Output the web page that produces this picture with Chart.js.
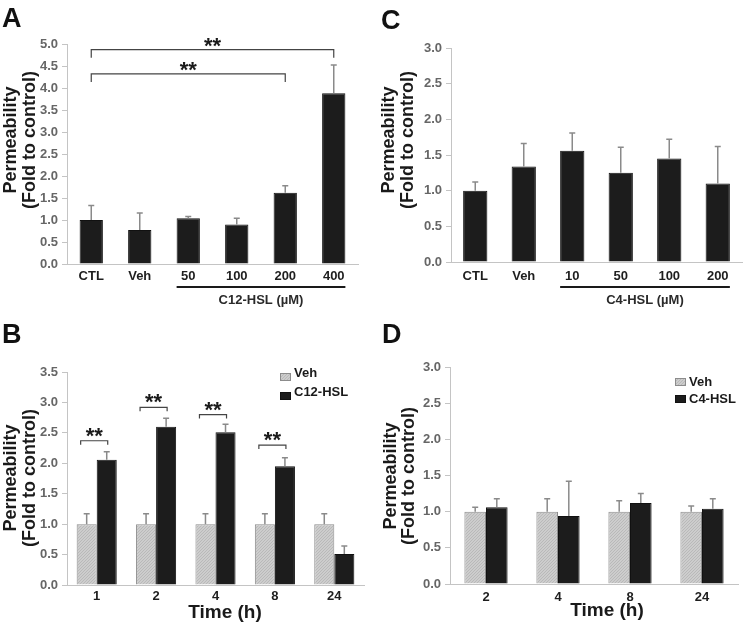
<!DOCTYPE html>
<html>
<head>
<meta charset="utf-8">
<script src="https://cdn.jsdelivr.net/npm/chart.js@4/dist/chart.umd.min.js"></script>
<style>
  body { margin: 0; background: #fff; }
  #wrap { position: relative; width: 743px; height: 624px; }
  canvas { position: absolute; }
</style>
</head>
<body>
<div id="wrap">
  <canvas id="panelA" width="371" height="310" style="left:0;top:0"></canvas>
  <canvas id="panelC" width="371" height="310" style="left:372px;top:0"></canvas>
  <canvas id="panelB" width="371" height="314" style="left:0;top:310px"></canvas>
  <canvas id="panelD" width="371" height="314" style="left:372px;top:310px"></canvas>
</div>
<script>
const FONT = '"Liberation Sans", Arial, sans-serif';

// A: C12-HSL dose
const doseLabelsA = ['CTL', 'Veh', '50', '100', '200', '400'];
const permA = [1.00, 0.77, 1.04, 0.90, 1.62, 3.88];
const sdA = [0.33, 0.39, 0.04, 0.14, 0.16, 0.64];

// C: C4-HSL dose
const doseLabelsC = ['CTL', 'Veh', '10', '50', '100', '200'];
const permC = [1.00, 1.34, 1.56, 1.25, 1.45, 1.10];
const sdC = [0.12, 0.32, 0.25, 0.36, 0.27, 0.52];

// B: C12-HSL time course
const timeLabelsB = ['1', '2', '4', '8', '24'];
const vehB = [1.00, 1.00, 1.00, 1.00, 1.00];
const vehSdB = [0.17, 0.17, 0.17, 0.17, 0.17];
const c12B = [2.06, 2.60, 2.51, 1.95, 0.51];
const c12SdB = [0.13, 0.14, 0.13, 0.14, 0.13];

// D: C4-HSL time course
const timeLabelsD = ['2', '4', '8', '24'];
const vehD = [1.00, 1.00, 1.00, 1.00];
const vehSdD = [0.06, 0.18, 0.15, 0.08];
const c4D = [1.06, 0.94, 1.12, 1.04];
const c4SdD = [0.12, 0.48, 0.13, 0.14];

function hatch() {
  const c = document.createElement('canvas');
  c.width = 3; c.height = 3;
  const g = c.getContext('2d');
  g.fillStyle = '#cdcdcd';
  g.fillRect(0, 0, 3, 3);
  g.strokeStyle = '#b9b9b9';
  g.lineWidth = 1;
  g.beginPath();
  g.moveTo(-1, 4); g.lineTo(4, -1);
  g.stroke();
  return g.createPattern(c, 'repeat');
}
const vehFill = hatch();

// extra drawing per panel (letters, titles, brackets...)
const decorCfg = {
  panelA: {
    letter: { text: 'A', x: 2, y: 27 },
    yTitle: { x1: 11, x2: 30, y: 140 },
    underline: { from: 2, to: 5, y: 287, text: 'C12-HSL (\u00b5M)', textY: 300 },
    brackets: [
      { a: 0, b: 5, level: 4.87, drop: 8 },
      { a: 0, b: 4, level: 4.32, drop: 8 }
    ]
  },
  panelC: {
    letter: { text: 'C', x: 9, y: 29 },
    yTitle: { x1: 17, x2: 36, y: 140 },
    underline: { from: 2, to: 5, y: 287, text: 'C4-HSL (\u00b5M)', textY: 300 }
  },
  panelB: {
    letter: { text: 'B', x: 2, y: 33 },
    yTitle: { x1: 11, x2: 30, y: 168 },
    xTitle: { text: 'Time (h)', x: 225, y: 303 },
    legend: { x: 280, y: [67, 86] },
    pairBrackets: [
      { i: 0, level: 2.37 },
      { i: 1, level: 2.92 },
      { i: 2, level: 2.80 },
      { i: 3, level: 2.30 }
    ]
  },
  panelD: {
    letter: { text: 'D', x: 10, y: 33 },
    yTitle: { x1: 19, x2: 37, y: 166 },
    xTitle: { text: 'Time (h)', x: 235, y: 301 },
    legend: { x: 303, y: [72, 89] }
  }
};

function stars(ctx, x, y) {
  ctx.font = 'bold 22px ' + FONT;
  ctx.textAlign = 'center';
  ctx.textBaseline = 'alphabetic';
  ctx.fillStyle = '#1a1a1a';
  ctx.fillText('**', x, y + 13);
}

const decor = {
  id: 'decor',
  afterDatasetsDraw(chart) {
    const ctx = chart.ctx;
    const y = chart.scales.y;
    ctx.save();
    ctx.strokeStyle = '#8a8a8a';
    ctx.lineWidth = 1.5;
    chart.data.datasets.forEach((ds, di) => {
      chart.getDatasetMeta(di).data.forEach((el, i) => {
        const top = y.getPixelForValue(ds.data[i] + ds.sd[i]);
        ctx.beginPath();
        ctx.moveTo(el.x, el.y);
        ctx.lineTo(el.x, top);
        ctx.moveTo(el.x - 3, top);
        ctx.lineTo(el.x + 3, top);
        ctx.stroke();
      });
    });
    ctx.restore();
  },
  afterDraw(chart) {
    const cfg = decorCfg[chart.canvas.id];
    const ctx = chart.ctx;
    const ys = chart.scales.y;
    ctx.save();
    ctx.fillStyle = '#111';
    ctx.font = 'bold 27px ' + FONT;
    ctx.textAlign = 'left';
    ctx.textBaseline = 'alphabetic';
    ctx.fillText(cfg.letter.text, cfg.letter.x, cfg.letter.y);

    // y title, two lines
    ctx.font = 'bold 18px ' + FONT;
    ctx.textAlign = 'center';
    ctx.textBaseline = 'middle';
    ctx.fillStyle = '#1a1a1a';
    [['Permeability', cfg.yTitle.x1], ['(Fold to control)', cfg.yTitle.x2]].forEach(([t, x]) => {
      ctx.save();
      ctx.translate(x, cfg.yTitle.y);
      ctx.rotate(-Math.PI / 2);
      ctx.fillText(t, 0, 0);
      ctx.restore();
    });

    if (cfg.xTitle) {
      ctx.font = 'bold 19px ' + FONT;
      ctx.fillText(cfg.xTitle.text, cfg.xTitle.x, cfg.xTitle.y);
    }

    const bars = chart.getDatasetMeta(0).data;
    if (cfg.underline) {
      const u = cfg.underline;
      const x1 = bars[u.from].x - bars[u.from].width / 2;
      const x2 = bars[u.to].x + bars[u.to].width / 2;
      ctx.strokeStyle = '#1a1a1a';
      ctx.lineWidth = 2;
      ctx.beginPath();
      ctx.moveTo(x1, u.y);
      ctx.lineTo(x2, u.y);
      ctx.stroke();
      ctx.font = 'bold 13px ' + FONT;
      ctx.fillStyle = '#2a2a2a';
      ctx.fillText(u.text, (x1 + x2) / 2, u.textY);
    }

    ctx.strokeStyle = '#444';
    ctx.lineWidth = 1.2;
    (cfg.brackets || []).forEach(b => {
      const xa = bars[b.a].x, xb = bars[b.b].x;
      const yy = ys.getPixelForValue(b.level);
      ctx.beginPath();
      ctx.moveTo(xa, yy + b.drop);
      ctx.lineTo(xa, yy);
      ctx.lineTo(xb, yy);
      ctx.lineTo(xb, yy + b.drop);
      ctx.stroke();
      stars(ctx, (xa + xb) / 2, yy - 10);
    });

    (cfg.pairBrackets || []).forEach(b => {
      const v = chart.getDatasetMeta(0).data[b.i];
      const c = chart.getDatasetMeta(1).data[b.i];
      const xa = v.x - 0.3 * v.width, xb = c.x + 0.05 * c.width;
      const yy = ys.getPixelForValue(b.level);
      ctx.beginPath();
      ctx.moveTo(xa, yy + 4);
      ctx.lineTo(xa, yy);
      ctx.lineTo(xb, yy);
      ctx.lineTo(xb, yy + 4);
      ctx.stroke();
      stars(ctx, (xa + xb) / 2, yy - 11);
    });

    if (cfg.legend) {
      ctx.font = 'bold 13px ' + FONT;
      ctx.textAlign = 'left';
      chart.data.datasets.forEach((ds, i) => {
        const yy = cfg.legend.y[i];
        ctx.fillStyle = ds.backgroundColor;
        ctx.fillRect(cfg.legend.x, yy - 4, 11, 8);
        ctx.strokeStyle = ds.borderColor;
        ctx.lineWidth = 1;
        ctx.strokeRect(cfg.legend.x + 0.5, yy - 3.5, 10, 7);
        ctx.fillStyle = '#1a1a1a';
        ctx.fillText(ds.label, cfg.legend.x + 14, yy);
      });
    }
    ctx.restore();
  }
};

function panel(id, labels, datasets, o) {
  const canvas = document.getElementById(id);
  const h = canvas.height;
  return new Chart(canvas, {
    type: 'bar',
    data: { labels: labels, datasets: datasets },
    options: {
      responsive: false,
      animation: false,
      layout: { padding: { left: 0, top: o.top, right: o.right, bottom: 0 } },
      datasets: { bar: { categoryPercentage: o.cat, barPercentage: o.bar } },
      plugins: { legend: { display: false }, tooltip: { enabled: false } },
      scales: {
        x: {
          grid: { display: false, drawTicks: false },
          border: { display: true, color: '#c4c4c4', width: 1 },
          ticks: { color: '#1e1e1e', font: { family: FONT, size: 13, weight: 'bold' }, padding: o.xPad, maxRotation: 0, autoSkip: false },
          afterFit: s => { s.height = h - o.bottom; }
        },
        y: {
          min: 0,
          max: o.yMax,
          ticks: { stepSize: 0.5, color: '#666', font: { family: FONT, size: 13, weight: 'bold' }, padding: 4, callback: v => v.toFixed(1) },
          grid: { drawOnChartArea: false, drawTicks: true, tickLength: 5, color: '#c4c4c4' },
          border: { display: true, color: '#c4c4c4', width: 1 },
          afterFit: s => { s.width = o.left; }
        }
      }
    },
    plugins: [decor]
  });
}

const black = '#1c1c1c';

panel('panelA', doseLabelsA, [
  { label: 'Permeability', data: permA, sd: sdA, backgroundColor: black, borderColor: '#111', borderWidth: 1 }
], { left: 67, right: 13, top: 44, bottom: 264, yMax: 5, cat: 1, bar: 0.48, xPad: 5 });

panel('panelC', doseLabelsC, [
  { label: 'Permeability', data: permC, sd: sdC, backgroundColor: black, borderColor: '#111', borderWidth: 1 }
], { left: 79, right: 1, top: 48, bottom: 262, yMax: 3, cat: 1, bar: 0.5, xPad: 7 });

panel('panelB', timeLabelsB, [
  { label: 'Veh', data: vehB, sd: vehSdB, backgroundColor: vehFill, borderColor: '#8c8c8c', borderWidth: 1 },
  { label: 'C12-HSL', data: c12B, sd: c12SdB, backgroundColor: black, borderColor: '#111', borderWidth: 1 }
], { left: 67, right: 7, top: 62, bottom: 275, yMax: 3.5, cat: 0.675, bar: 1, xPad: 4 });

panel('panelD', timeLabelsD, [
  { label: 'Veh', data: vehD, sd: vehSdD, backgroundColor: vehFill, borderColor: '#8c8c8c', borderWidth: 1 },
  { label: 'C4-HSL', data: c4D, sd: c4SdD, backgroundColor: black, borderColor: '#111', borderWidth: 1 }
], { left: 78, right: 5, top: 57, bottom: 274, yMax: 3, cat: 0.6, bar: 1, xPad: 6 });
</script>
</body>
</html>
